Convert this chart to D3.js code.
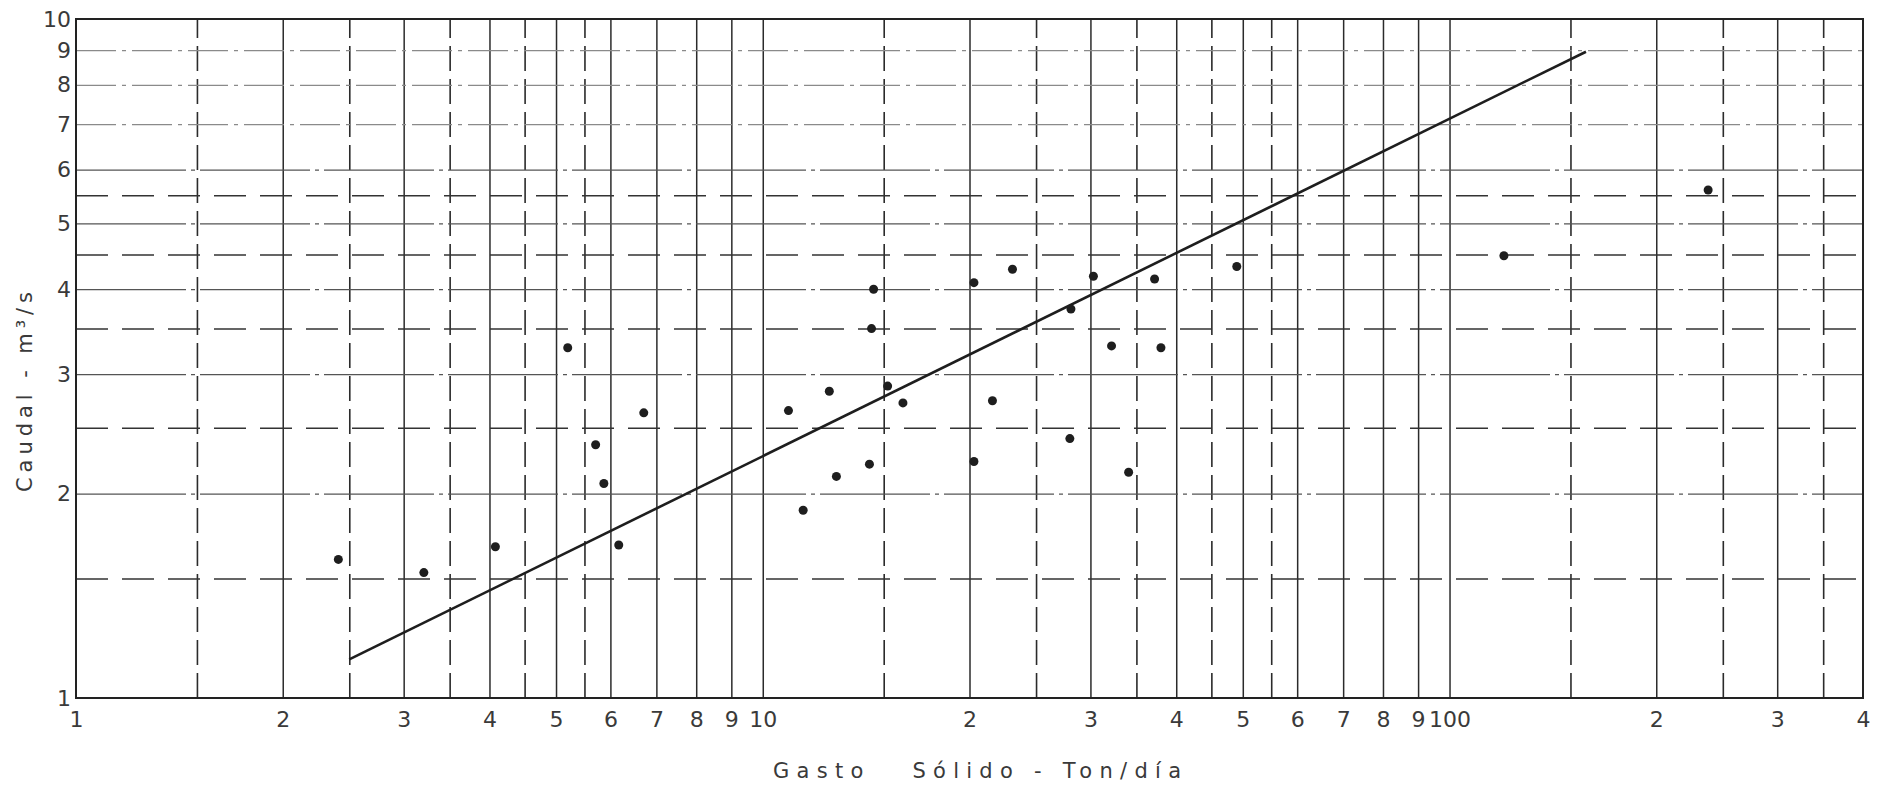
<!DOCTYPE html>
<html>
<head>
<meta charset="utf-8">
<script src="https://cdn.jsdelivr.net/npm/d3@7"></script>
<style>
  body { margin: 0; background: #fff; }
  text { font-family: "DejaVu Sans", sans-serif; fill: #3a3a3a; }
</style>
</head>
<body>
<script>
// gasto solido (Ton/dia) vs caudal (m3/s)
const gasto = [2.41, 3.21, 4.08, 5.2, 5.71, 5.87, 6.17, 6.71, 10.9, 11.45, 12.5, 12.8,
  14.3, 14.5, 14.4, 15.2, 16.0, 20.3, 20.3, 21.6, 23.1, 28.1, 28.0, 30.3, 32.2, 34.1,
  37.2, 38.0, 49.0, 120, 238];
const caudal = [1.60, 1.53, 1.67, 3.28, 2.36, 2.07, 1.68, 2.63, 2.65, 1.89, 2.83, 2.12,
  2.21, 4.00, 3.50, 2.88, 2.72, 4.09, 2.23, 2.74, 4.28, 3.74, 2.41, 4.18, 3.30, 2.15,
  4.14, 3.28, 4.32, 4.48, 5.60];

// recta de ajuste (extremos)
const rectaGasto = [2.5, 158];
const rectaCaudal = [1.14, 8.95];

const xTicks = [1, 2, 3, 4, 5, 6, 7, 8, 9, 10, 20, 30, 40, 50, 60, 70, 80, 90, 100, 200, 300, 400];
const xTickLabels = ["1", "2", "3", "4", "5", "6", "7", "8", "9", "10", "2", "3", "4", "5", "6", "7", "8", "9", "100", "2", "3", "4"];
const xHalf = [1.5, 2.5, 3.5, 4.5, 5.5, 15, 25, 35, 45, 55, 150, 250, 350];
const yTicks = [1, 2, 3, 4, 5, 6, 7, 8, 9, 10];
const yTickLabels = ["1", "2", "3", "4", "5", "6", "7", "8", "9", "10"];
const yHalf = [1.5, 2.5, 3.5, 4.5, 5.5];

const W = 1894, H = 812;
const m = { left: 76, right: 1863, top: 19, bottom: 698 };

const x = d3.scaleLog().domain([1, 400]).range([m.left, m.right]);
const y = d3.scaleLog().domain([1, 10]).range([m.bottom, m.top]);
const ph = m.bottom - m.top, pw = m.right - m.left;

const svg = d3.select("body").append("svg")
  .attr("width", W)
  .attr("height", H);

svg.append("rect").attr("width", W).attr("height", H).attr("fill", "#fff");

// vertical grid, solid at integers
svg.append("g")
  .attr("class", "grid")
  .attr("transform", "translate(0," + m.bottom + ")")
  .call(d3.axisBottom(x).tickValues(xTicks.slice(1, -1)).tickSize(-ph).tickFormat(""))
  .call(g => g.select(".domain").remove())
  .selectAll("line")
  .attr("stroke", "#2b2b2b")
  .attr("stroke-width", 1.5);

// vertical grid, dashed at halves
svg.append("g")
  .attr("class", "grid")
  .attr("transform", "translate(0," + m.bottom + ")")
  .call(d3.axisBottom(x).tickValues(xHalf).tickSize(-ph).tickFormat(""))
  .call(g => g.select(".domain").remove())
  .selectAll("line")
  .attr("stroke", "#2b2b2b")
  .attr("stroke-width", 1.6)
  .attr("stroke-dasharray", "25,8");

// horizontal grid, integers (faint, broken)
svg.append("g")
  .attr("class", "grid")
  .attr("transform", "translate(" + m.left + ",0)")
  .call(d3.axisLeft(y).tickValues(yTicks.slice(1, -1)).tickSize(-pw).tickFormat(""))
  .call(g => g.select(".domain").remove())
  .selectAll("line")
  .attr("stroke", d => d >= 7 ? "#8a8a8a" : "#555")
  .attr("stroke-width", 1.2)
  .attr("stroke-dasharray", d => d >= 7 ? "40,6,4,6" : "110,5,4,5");

// horizontal grid, dashed at halves
svg.append("g")
  .attr("class", "grid")
  .attr("transform", "translate(" + m.left + ",0)")
  .call(d3.axisLeft(y).tickValues(yHalf).tickSize(-pw).tickFormat(""))
  .call(g => g.select(".domain").remove())
  .selectAll("line")
  .attr("stroke", "#333")
  .attr("stroke-width", 1.5)
  .attr("stroke-dasharray", "32,14");

// frame
svg.append("rect")
  .attr("x", x(1))
  .attr("y", y(10))
  .attr("width", x(400) - x(1))
  .attr("height", y(1) - y(10))
  .attr("fill", "none")
  .attr("stroke", "#222")
  .attr("stroke-width", 2);

// tick labels
svg.append("g")
  .attr("transform", "translate(0," + m.bottom + ")")
  .call(d3.axisBottom(x).tickValues(xTicks).tickSize(0).tickPadding(13)
    .tickFormat((d, i) => xTickLabels[i]))
  .call(g => g.select(".domain").remove())
  .selectAll("text")
  .style("font-size", "22px")
  .attr("fill", "#3a3a3a");

svg.append("g")
  .attr("transform", "translate(" + m.left + ",0)")
  .call(d3.axisLeft(y).tickValues(yTicks).tickSize(0).tickPadding(5)
    .tickFormat((d, i) => yTickLabels[i]))
  .call(g => g.select(".domain").remove())
  .selectAll("text")
  .style("font-size", "22px")
  .attr("fill", "#3a3a3a");

// regression line
const line = d3.line()
  .x(d => x(d[0]))
  .y(d => y(d[1]));

svg.append("path")
  .datum(rectaGasto.map((g, i) => [g, rectaCaudal[i]]))
  .attr("d", line)
  .attr("fill", "none")
  .attr("stroke", "#1e1e1e")
  .attr("stroke-width", 2.6);

// points
svg.selectAll(".pt")
  .data(gasto.map((g, i) => [g, caudal[i]]))
  .enter()
  .append("circle")
  .attr("class", "pt")
  .attr("cx", d => x(d[0]))
  .attr("cy", d => y(d[1]))
  .attr("r", 4.5)
  .attr("fill", "#1e1e1e");

// axis titles
svg.append("text")
  .attr("x", 977)
  .attr("y", 778)
  .attr("text-anchor", "middle")
  .attr("textLength", 408)
  .attr("lengthAdjust", "spacing")
  .style("white-space", "pre")
  .style("font-size", "21px")
  .text("Gasto   Sólido - Ton/día");

svg.append("text")
  .attr("transform", "translate(32,392) rotate(-90)")
  .attr("text-anchor", "middle")
  .attr("textLength", 200)
  .attr("lengthAdjust", "spacing")
  .style("white-space", "pre")
  .style("font-size", "21px")
  .text("Caudal - m³/s");
</script>
</body>
</html>
